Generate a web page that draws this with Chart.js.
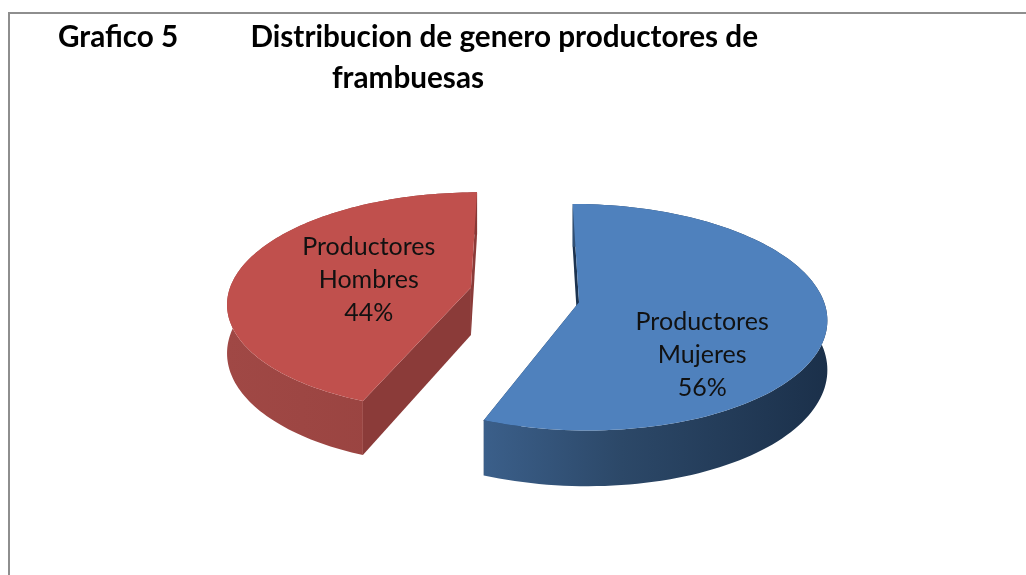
<!DOCTYPE html>
<html>
<head>
<meta charset="utf-8">
<script src="https://cdn.jsdelivr.net/npm/chart.js@4"></script>
<style>
    html, body { margin: 0; padding: 0; background: #fff; }
    #frame { position: absolute; left: 8px; top: 12px; right: 0; bottom: 0; border-top: 2px solid #8e8e8e; border-left: 2px solid #8e8e8e; }
    #wrap { position: absolute; left: 0; top: 0; width: 1026px; height: 575px; }
</style>
</head>
<body>
<div id="frame"></div>
<div id="wrap"><canvas id="pieChart"></canvas></div>
<script>
const titleLines = ['Grafico 5          Distribucion de genero productores de', 'frambuesas'];
const categories = ['Productores Mujeres', 'Productores Hombres'];
const labelLines = [['Productores', 'Mujeres'], ['Productores', 'Hombres']];
const percentValues = [56, 44];
const topColors = ['#4f81bd', '#c0504d'];

// 3D look: how the flat pie gets tilted on screen
const SQUASH = 0.45;        // vertical size of the disc vs its radius
const PERSPECTIVE = 0.13;   // near side bigger than far side
const DEPTH = 48;           // thickness of the pie
const OFFSET_V = 1.6;       // the explode goes a bit more up/down than the bisector says
const SHIFT_X = 116.5;      // title is centered at 408, the pie is not
const wallStops = [
    [[0, '#3b5f8a'], [0.4, '#2c4868'], [1, '#1b304a']],
    [[0, '#a04845'], [0.6, '#9a4441'], [1, '#873836']]
];
const faceColors = ['#1c3350', '#8b3b39'];
// where the label sits, relative to the slice tip, in disc units
const labelSpots = [[0.46, -0.445], [-0.43, 0.07]];

function projector(arc) {
    const R = arc.outerRadius;
    const mid = (arc.startAngle + arc.endAngle) / 2;
    const off = arc.options.offset / R;
    const ou = Math.cos(mid) * off;
    const ov = -Math.sin(mid) * off * OFFSET_V;
    // u goes right, v goes away from the viewer, both in radius units
    return (u, v, down) => {
        const pu = u + ou, pv = v + ov;
        const s = 1 / (1 + PERSPECTIVE * pv);
        return {
            x: arc.x + SHIFT_X + R * pu * s,
            y: arc.y - R * SQUASH * pv * s + (down ? DEPTH * s : 0)
        };
    };
}

function arcPoints(arc, project, down) {
    const pts = [];
    const steps = 120;
    for (let i = 0; i <= steps; i++) {
        const a = arc.startAngle + (arc.endAngle - arc.startAngle) * i / steps;
        pts.push(project(Math.cos(a), -Math.sin(a), down));
    }
    return pts;
}

function fillPoly(ctx, pts, fill) {
    ctx.beginPath();
    pts.forEach((p, i) => i ? ctx.lineTo(p.x, p.y) : ctx.moveTo(p.x, p.y));
    ctx.closePath();
    ctx.fillStyle = fill;
    ctx.fill();
}

const tiltedPie = {
    id: 'tiltedPie',
    beforeDatasetDraw(chart, args) {
        const ctx = chart.ctx;
        const arcs = chart.getDatasetMeta(args.index).data;
        ctx.save();
        arcs.forEach((arc, i) => {
            const project = projector(arc);
            const top = arcPoints(arc, project, false);
            const bottom = arcPoints(arc, project, true);
            const tip = project(0, 0, false);
            const tipDown = project(0, 0, true);
            const last = top.length - 1;

            // the two cut faces
            fillPoly(ctx, [top[0], tip, tipDown, bottom[0]], faceColors[i]);
            fillPoly(ctx, [top[last], tip, tipDown, bottom[last]], faceColors[i]);

            // outer wall
            const xs = top.map(p => p.x);
            const grad = ctx.createLinearGradient(Math.min(...xs), 0, Math.max(...xs), 0);
            wallStops[i].forEach(s => grad.addColorStop(s[0], s[1]));
            fillPoly(ctx, top.concat(bottom.slice().reverse()), grad);

            // top of the slice
            fillPoly(ctx, [tip].concat(top), arc.options.backgroundColor);

            // label
            const spot = project(labelSpots[i][0], labelSpots[i][1], false);
            const lines = labelLines[i].concat(percentValues[i] + '%');
            ctx.fillStyle = '#111';
            ctx.font = '25px Lato';
            ctx.textAlign = 'center';
            ctx.textBaseline = 'middle';
            lines.forEach((line, n) => ctx.fillText(line, spot.x, spot.y + (n - 1) * 33));
        });
        ctx.restore();
        return false; // already drawn above
    }
};

const chart = new Chart(document.getElementById('pieChart'), {
    type: 'pie',
    data: {
        labels: categories,
        datasets: [{
            data: percentValues,
            backgroundColor: topColors,
            borderWidth: 0,
            offset: 55
        }]
    },
    options: {
        responsive: true,
        maintainAspectRatio: false,
        animation: false,
        radius: 243,
        layout: { padding: { top: 12, right: 210, bottom: 89 } },
        plugins: {
            legend: { display: false },
            tooltip: { enabled: false },
            title: {
                display: true,
                text: titleLines,
                color: '#000',
                font: { family: 'Lato', size: 29.7, weight: 'bold', lineHeight: 1.41 },
                padding: { top: 4, bottom: 4 }
            }
        }
    },
    plugins: [tiltedPie]
});
</script>
</body>
</html>
